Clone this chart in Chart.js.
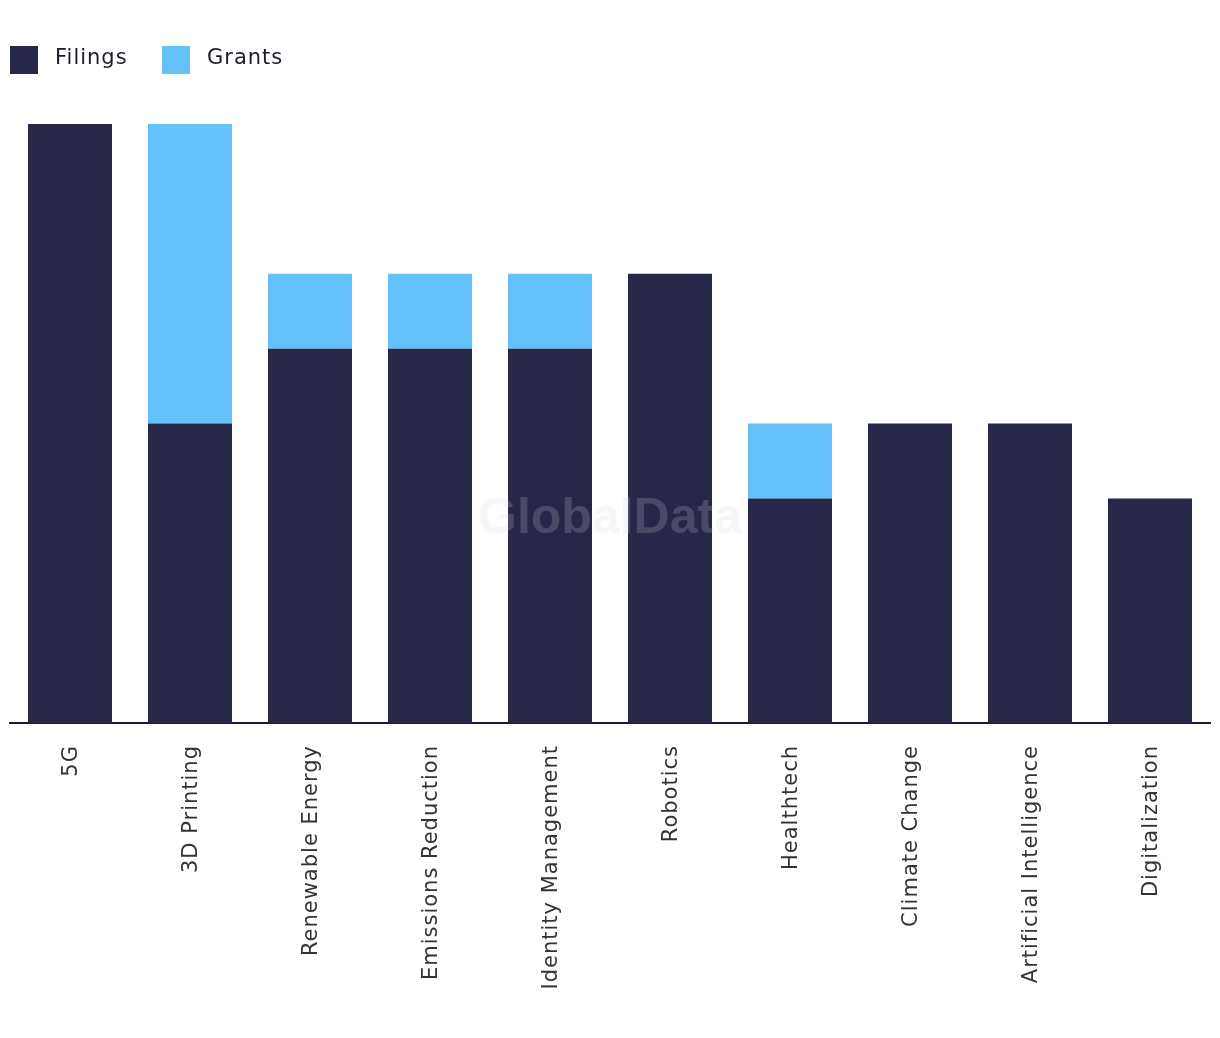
<!DOCTYPE html>
<html>
<head>
<meta charset="utf-8">
<script src="https://cdn.jsdelivr.net/npm/chart.js@4"></script>
<style>
  html, body { margin: 0; padding: 0; background: #ffffff; }
  #wrap { width: 1220px; height: 1038px; position: relative; }
</style>
</head>
<body>
<div id="wrap"><canvas id="c" width="1220" height="1038"></canvas></div>
<script>
const categories = ["5G", "3D Printing", "Renewable Energy", "Emissions Reduction", "Identity Management", "Robotics", "Healthtech", "Climate Change", "Artificial Intelligence", "Digitalization"];
const filings = [8, 4, 5, 5, 5, 6, 3, 4, 4, 3];
const grants = [0, 4, 1, 1, 1, 0, 1, 0, 0, 0];
const seriesNames = ["Filings", "Grants"];

const FONT = "'DejaVu Sans', 'Open Sans', sans-serif";

const spacing = {
  id: 'spacing',
  beforeLayout(chart) { chart.ctx.letterSpacing = '1px'; },
  beforeDraw(chart) { chart.ctx.letterSpacing = '1px'; }
};

const watermark = {
  id: 'watermark',
  afterDatasetsDraw(chart) {
    const ctx = chart.ctx;
    ctx.save();
    ctx.letterSpacing = '0px';
    ctx.font = "bold 50px 'Liberation Sans', Arial, sans-serif";
    ctx.fillStyle = 'rgba(215,215,222,0.2)';
    ctx.textAlign = 'center';
    ctx.textBaseline = 'middle';
    ctx.fillText('GlobalData', chart.width / 2, chart.height / 2);
    ctx.restore();
  }
};

// Custom legend drawn on the canvas from the chart's datasets
const customLegend = {
  id: 'customLegend',
  afterDraw(chart) {
    const ctx = chart.ctx;
    const boxX = [10, 162];
    const textX = [55, 207];
    ctx.save();
    ctx.letterSpacing = '1px';
    ctx.font = "21px " + FONT;
    ctx.textAlign = 'left';
    ctx.textBaseline = 'middle';
    chart.data.datasets.forEach((ds, i) => {
      ctx.fillStyle = ds.backgroundColor;
      ctx.fillRect(boxX[i], 46, 28, 28);
      ctx.fillStyle = '#1c1c2e';
      ctx.fillText(ds.label, textX[i], 59);
    });
    ctx.restore();
  }
};

new Chart(document.getElementById('c'), {
  type: 'bar',
  data: {
    labels: categories,
    datasets: [
      { label: seriesNames[0], data: filings, backgroundColor: '#27274a', borderWidth: 0 },
      { label: seriesNames[1], data: grants, backgroundColor: '#62c1f9', borderWidth: 0 }
    ]
  },
  options: {
    responsive: false,
    animation: false,
    layout: { padding: { top: 124, left: 10, right: 10, bottom: 0 } },
    datasets: { bar: { barPercentage: 0.7, categoryPercentage: 1.0 } },
    plugins: {
      legend: { display: false },
      tooltip: { enabled: false }
    },
    scales: {
      x: {
        stacked: true,
        grid: { display: false, drawTicks: false },
        border: { display: true, color: '#1a1a2e', width: 2 },
        ticks: {
          color: '#333333',
          font: { family: FONT, size: 21 },
          maxRotation: 90,
          minRotation: 90,
          padding: 22,
          labelOffset: 2,
          autoSkip: false
        },
        afterFit(axis) { axis.height = 315; }
      },
      y: {
        stacked: true,
        display: false,
        min: 0,
        max: 8
      }
    }
  },
  plugins: [spacing, watermark, customLegend]
});
</script>
</body>
</html>
